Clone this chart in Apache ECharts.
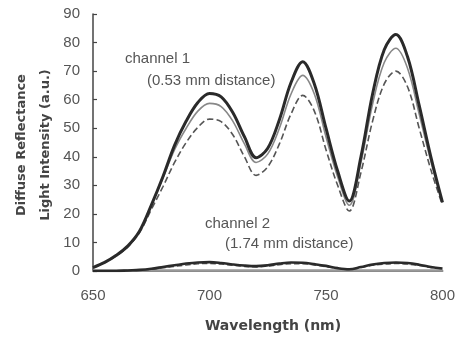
<!DOCTYPE html>
<html>
<head>
<meta charset="utf-8">
<script src="https://cdn.jsdelivr.net/npm/echarts@6/dist/echarts.min.js"></script>
<style>
html,body{margin:0;padding:0;background:#fff;}
#c{width:458px;height:340px;}
</style>
</head>
<body>
<div id="c"></div>
<script>
var wavelengths = [650,655,660,665,670,675,680,685,690,695,700,705,710,715,720,725,730,735,740,745,750,755,760,765,770,775,780,785,790,795,800];
var ch1Thick  = [1.2,3,5.5,8.8,14,23,33,44,52.5,59,62.2,61,55.5,47,39.7,43,53,66,73.3,65.5,50,35,24.5,40,62,77.5,82.8,75,58,40,24];
var ch1Gray   = [1.2,3,5.5,8.8,14,23,32.5,42.5,50,56,58.7,57.6,52.5,44.5,38,41,50,62,68.5,62,47,33,23,38,58.5,73,78,71,55,38.5,24];
var ch1Dashed = [1.2,3,5.3,8.5,13.5,21.5,29.5,38,45,50.3,53.2,52.3,47.7,40,33.5,36.5,44.5,55,61.5,56,42.5,30,21,34.5,52.5,65.5,70,64.5,50,35.5,23];
var ch2Thick  = [0,0,0,0.2,0.4,0.8,1.4,2.0,2.6,3.0,3.1,2.8,2.3,1.9,1.7,2.0,2.6,3.0,2.9,2.4,1.8,1.0,0.6,1.4,2.3,2.8,3.0,2.8,2.2,1.4,0.9];
var ch2Dashed = [0,0,0,0.1,0.3,0.6,1.1,1.6,2.1,2.5,2.6,2.4,2.0,1.6,1.4,1.7,2.2,2.5,2.5,2.1,1.5,0.9,0.5,1.2,2.0,2.4,2.6,2.4,1.9,1.2,0.8];
var ch2Gray   = [0.3,0.3,0.3,0.3,0.3,0.3,0.3,0.3,0.3,0.3,0.3,0.3,0.3,0.3,0.3,0.3,0.3,0.3,0.3,0.3,0.3,0.3,0.3,0.3,0.3,0.3,0.3,0.3,0.3,0.3,0.3];
var xTicks = [650,700,750,800];
var yTicks = [0,10,20,30,40,50,60,70,80,90];
var yTitle1 = 'Diffuse Reflectance';
var yTitle2 = 'Light Intensity (a.u.)';
var xTitle = 'Wavelength (nm)';
var notes = [['channel 1',125,60],['(0.53 mm distance)',147,82],['channel 2',205,225],['(1.74 mm distance)',225,245]];

function pairs(v){ return wavelengths.map(function(w,i){ return [w, v[i]]; }); }
function ser(v, color, width, type){
  return {type:'line', data:pairs(v), smooth:0.35, showSymbol:false, symbol:'none',
    lineStyle:{color:color, width:width, type:type||'solid'}, silent:true, z: type==='dashed'?3:(width>2?4:2)};
}
var chart = echarts.init(document.getElementById('c'));
var textColor = '#555';
var graphics = notes.map(function(n){
  return {type:'text', left:n[1], top:n[2]-9, style:{text:n[0], fill:textColor, font:'15px "Liberation Sans", Arial, sans-serif'}};
});
graphics.push({type:'text', x:22, y:145, rotation:Math.PI/2, style:{text:yTitle1, fill:'#444', font:'bold 13px "DejaVu Sans", sans-serif', align:'center', verticalAlign:'middle'}});
graphics.push({type:'text', x:46, y:145, rotation:Math.PI/2, style:{text:yTitle2, fill:'#444', font:'bold 13px "DejaVu Sans", sans-serif', align:'center', verticalAlign:'middle'}});
graphics.push({type:'text', x:273, y:326, style:{text:xTitle, fill:'#444', font:'bold 14px "DejaVu Sans", sans-serif', align:'center', verticalAlign:'middle'}});

chart.setOption({
  animation:false,
  backgroundColor:'#fff',
  grid:{left:93, right:12, top:14, bottom:69, containLabel:false},
  xAxis:{type:'value', min:650, max:800, interval:50,
    axisLine:{show:true, lineStyle:{color:'#888', width:2}},
    axisTick:{show:false}, splitLine:{show:false},
    axisLabel:{margin:17, color:'#555', fontSize:15, fontFamily:'"Liberation Sans", Arial, sans-serif',
      formatter:function(v){ return xTicks.indexOf(v)>=0 ? String(v) : ''; }}
  },
  yAxis:{type:'value', min:0, max:90, interval:10,
    axisLine:{show:true, lineStyle:{color:'#444', width:1.5}},
    axisTick:{show:true, inside:true, length:4, lineStyle:{color:'#444', width:1.2}},
    splitLine:{show:false},
    axisLabel:{margin:13, color:'#555', fontSize:15, fontFamily:'"Liberation Sans", Arial, sans-serif',
      formatter:function(v){ return yTicks.indexOf(v)>=0 ? String(v) : ''; }}
  },
  graphic:graphics,
  series:[
    ser(ch1Dashed,'#555',1.6,'dashed'),
    ser(ch1Gray,'#888',1.6),
    ser(ch1Thick,'#2a2a2a',3),
    ser(ch2Gray,'#999',2),
    ser(ch2Dashed,'#555',1.4,'dashed'),
    ser(ch2Thick,'#2a2a2a',2.6)
  ]
});
</script>
</body>
</html>
